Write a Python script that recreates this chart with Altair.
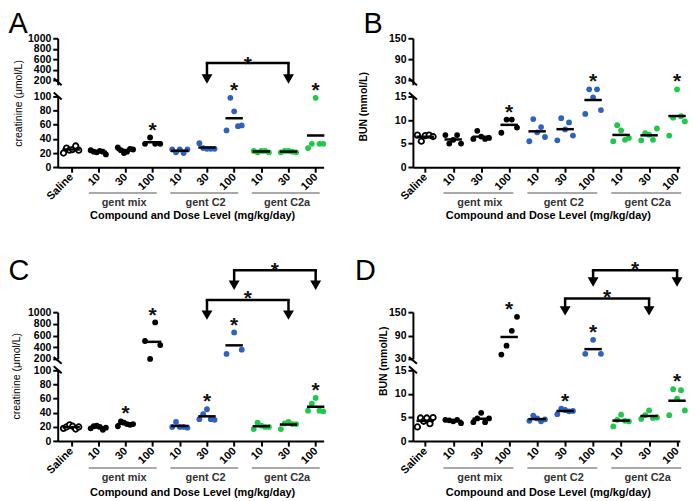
import json
import altair as alt
import pandas as pd

# ---------------- data ----------------
CATEGORIES = ["Saline", "10", "30", "100", "10", "30", "100", "10", "30", "100"]
COMPOUND = ["saline", "mix", "mix", "mix", "C2", "C2", "C2", "C2a", "C2a", "C2a"]
GROUP_NAMES = ["gent mix", "gent C2", "gent C2a"]
GROUP_FIRST = [1, 4, 7]
GROUP_LAST = [3, 6, 9]
X_TITLE = "Compound and Dose Level (mg/kg/day)"
LETTERS = ["A", "B", "C", "D"]
Y_TITLES = ["creatinine (\u03bcmol/L)", "BUN (mmol/L)", "creatinine (\u03bcmol/L)", "BUN (mmol/L)"]

CREAT_LOW_TICKS = [0, 20, 40, 60, 80, 100]
CREAT_UP_TICKS = [200, 400, 600, 800, 1000]
BUN_LOW_TICKS = [0, 5, 10, 15]
BUN_UP_TICKS = [30, 90, 150]

A_VALUES = [
    [20, 27, 24, 25, 30, 24],
    [24, 22, 21, 23, 22, 18],
    [28, 24, 20, 22, 26, 25],
    [33, 42, 33, 33],
    [25, 21, 25, 20, 25],
    [34, 27, 26, 26, 26],
    [52, 98, 79, 58, 59],
    [23, 21, 23, 23, 21],
    [21, 23, 23, 22, 21],
    [27, 33, 98, 33, 33],
]
A_STARS = [3, 6, 9]
A_BR_FROM = [5]
A_BR_TO = [8]

B_VALUES = [
    [6.8, 5.5, 6.7, 6.8, 6.5],
    [6.8, 5.0, 5.8, 6.8, 5.0],
    [6.0, 7.7, 6.5, 6.0, 6.2],
    [7.3, 10.1, 10.1, 8.4],
    [5.5, 10.2, 7.4, 8.5, 6.4],
    [5.7, 10.4, 8.0, 9.5, 6.7],
    [11.3, 16.5, 14.8, 16.5, 12.1],
    [5.5, 8.9, 7.8, 5.8, 6.2],
    [5.7, 7.2, 6.9, 5.8, 8.2],
    [6.7, 10.5, 16.5, 10.8, 9.7],
]
B_STARS = [3, 6, 9]
B_BR_FROM = []
B_BR_TO = []

C_VALUES = [
    [18, 20, 23, 21, 17, 20],
    [18, 21, 22, 20, 16, 19],
    [21, 28, 26, 24, 23, 24],
    [506, 200, 824, 437],
    [20, 27, 20, 20, 19],
    [31, 38, 45, 31, 30],
    [284, 653, 358],
    [17, 26, 22, 20, 20],
    [17, 25, 27, 24, 24],
    [43, 53, 61, 43, 42],
]
C_STARS = [2, 3, 5, 6, 9]
C_BR_FROM = [5, 6]
C_BR_TO = [8, 9]

D_VALUES = [
    [3.0, 4.9, 4.2, 4.9, 3.7, 5.0],
    [4.5, 4.4, 4.2, 4.5, 3.8],
    [4.0, 4.8, 6.0, 4.0, 4.8],
    [41, 64, 102, 138],
    [4.3, 5.4, 4.8, 4.2, 4.6],
    [5.7, 6.9, 6.6, 6.3, 6.4],
    [43, 79, 43],
    [3.1, 4.5, 5.6, 4.3, 4.2],
    [4.7, 5.5, 6.5, 4.9, 5.0],
    [5.5, 11.0, 9.0, 10.8, 6.5],
]
D_STARS = [3, 5, 6, 9]
D_BR_FROM = [5, 6]
D_BR_TO = [8, 9]

# ---------------- style / layout ----------------
FONT = "Liberation Sans"
BLUE = "#2f62c0"
GREEN = "#1fc74a"
COLOR_DOMAIN = ["saline", "mix", "C2", "C2a"]
COLOR_RANGE = ["#000000", "#000000", BLUE, GREEN]
LABEL_EXPR = json.dumps(CATEGORIES) + "[datum.value]"

ROW_GAP = 11.5
COL_GAP = 89.3
SPACER_H = 121.8
COLS = [dict(width=267.5, xdom=[-0.494, 9.294]), dict(width=268.5, xdom=[-0.44, 9.1])]
ROWS = [dict(up_span=42.3, up_h=46.8, low_h=71.2, line=26, glabel=36, xtitle=49.5),
        dict(up_span=47.0, up_h=47.0, low_h=71.2, line=27, glabel=37, xtitle=52)]
LAYOUT = {
    "A": dict(letter=(-49.5, -28.2), ytitle=(-39.2, 7), brackets=[(24.8, 45.8, 20.5)]),
    "B": dict(letter=(-49.6, -28.2), ytitle=(-49.0, 10.5), brackets=[]),
    "C": dict(letter=(-49.5, -55.7), ytitle=(-40.5, 6),
              brackets=[(-12.2, 7.8, -19.0), (-42.2, -22.2, -47.2)]),
    "D": dict(letter=(-58.3, -55.7), ytitle=(-28.8, -9),
              brackets=[(-13.8, 3.5, -19.8), (-42.2, -25.5, -48.2)]),
}
STAR_SIZE = 21
STAR_CENTER = 0.575 * STAR_SIZE
ONE = pd.DataFrame({"k": [0]})


def panel_frame(values, stars):
    rows = []
    for idx, vals in enumerate(values):
        n = len(vals)
        for r, v in enumerate(vals):
            off = 0.0 if n == 1 else (r - (n - 1) / 2) * 0.56 / (n - 1)
            rows.append({"idx": idx, "x": idx + off, "value": v,
                         "comp": COMPOUND[idx], "sig": idx in stars})
    return pd.DataFrame(rows)


def segment(df, ydom, ticks, xdom, split, upper):
    xs = alt.Scale(domain=xdom, nice=False, zero=False)
    ys = alt.Scale(domain=ydom, nice=False, zero=False)
    if upper:
        xaxis = None
    else:
        xaxis = alt.Axis(values=list(range(len(CATEGORIES))), labelExpr=LABEL_EXPR,
                         labelAngle=-45, labelAlign="right", labelBaseline="middle",
                         labelFontSize=11, labelPadding=3, title=None)
    yaxis = alt.Axis(values=ticks, title=None, labelFontSize=10.5, labelPadding=2, format="d")

    def X(f):
        return alt.X(f, type="quantitative", scale=xs, axis=xaxis)

    def Y(f):
        return alt.Y(f, type="quantitative", scale=ys, axis=yaxis)

    op = ">=" if upper else "<"
    base = alt.Chart(df)
    filled = base.transform_filter(
        f"datum.value {op} {split} && datum.comp != 'saline'"
    ).mark_circle(size=34, opacity=1).encode(
        x=X("x"), y=Y("value"),
        color=alt.Color("comp:N", scale=alt.Scale(domain=COLOR_DOMAIN, range=COLOR_RANGE), legend=None),
    )
    opened = base.transform_filter(
        f"datum.value {op} {split} && datum.comp == 'saline'"
    ).mark_point(shape="circle", size=30, filled=True, fill="white", stroke="black",
                 strokeWidth=1.8, opacity=1).encode(x=X("x"), y=Y("value"))
    means = base.transform_aggregate(
        m="mean(value)", groupby=["idx"]
    ).transform_filter(f"datum.m {op} {split}").mark_tick(
        orient="horizontal", size=17.5, thickness=2.5, color="black", opacity=1
    ).encode(x=X("idx"), y=Y("m"))
    stars = base.transform_filter("datum.sig").transform_aggregate(
        mx="max(value)", groupby=["idx"]
    ).transform_filter(f"datum.mx {op} {split}").mark_text(
        text="*", fontSize=STAR_SIZE, fontWeight="bold", font=FONT, color="#111",
        baseline="alphabetic", dy=-(13 - STAR_CENTER)
    ).encode(x=X("idx"), y=Y("mx"))
    return [filled, opened, means, stars], X


def build_panel(key, values, stars, br_from, br_to, low_ticks, up_ticks, col, row):
    c = COLS[col]
    r = ROWS[row]
    lay = LAYOUT[key]
    df = panel_frame(values, stars)
    split = up_ticks[0]
    w = c["width"]

    # ---- upper segment ----
    top, bot = up_ticks[-1], up_ticks[0]
    ymin = top - (top - bot) * r["up_h"] / r["up_span"]
    up_layers, XU = segment(df, [ymin, top], up_ticks, c["xdom"], split, True)
    sp = r["up_span"]
    up_layers.append(alt.Chart(ONE).mark_rule(color="black", strokeWidth=2).encode(
        x=alt.value(-4), x2=alt.value(4), y=alt.value(sp - 2), y2=alt.value(sp + 5)))
    up_layers.append(alt.Chart(ONE).mark_text(
        text=key, fontSize=29, font=FONT, align="left", baseline="top", color="black"
    ).encode(x=alt.value(lay["letter"][0]), y=alt.value(lay["letter"][1])))
    for i, (f, t) in enumerate(zip(br_from, br_to)):
        level, tip, star = lay["brackets"][i]
        bdf = pd.DataFrame({"f": [f], "t": [t]})
        ends = pd.DataFrame({"e": [f, t]})
        up_layers.append(alt.Chart(bdf).mark_rule(color="black", strokeWidth=2.5, strokeCap="square").encode(
            x=XU("f"), x2=alt.X2("t"), y=alt.value(level)))
        up_layers.append(alt.Chart(ends).mark_rule(color="black", strokeWidth=2.5).encode(
            x=XU("e"), y=alt.value(level), y2=alt.value(tip - 7)))
        up_layers.append(alt.Chart(ends).mark_point(
            shape="triangle-down", filled=True, size=120, color="black", opacity=1
        ).encode(x=XU("e"), y=alt.value(tip - 4.8)))
        up_layers.append(alt.Chart(bdf).transform_calculate(m="(datum.f + datum.t) / 2").mark_text(
            text="*", fontSize=STAR_SIZE, fontWeight="bold", font=FONT, color="#111", baseline="alphabetic"
        ).encode(x=XU("m"), y=alt.value(star + STAR_CENTER)))
    upper = alt.layer(*up_layers).properties(width=w, height=r["up_h"])

    # ---- lower segment ----
    low_layers, XL = segment(df, [low_ticks[0], low_ticks[-1]], low_ticks, c["xdom"], split, False)
    h = r["low_h"]
    low_layers.append(alt.Chart(ONE).mark_rule(color="black", strokeWidth=2).encode(
        x=alt.value(-4), x2=alt.value(4), y=alt.value(-4), y2=alt.value(3)))
    gdf = pd.DataFrame({"name": GROUP_NAMES, "first": GROUP_FIRST, "last": GROUP_LAST})
    low_layers.append(alt.Chart(gdf).transform_calculate(
        x1="datum.first - 0.35", x2="datum.last + 0.15"
    ).mark_rule(color="#555", strokeWidth=1.1).encode(
        x=XL("x1"), x2=alt.X2("x2"), y=alt.value(h + r["line"])))
    low_layers.append(alt.Chart(gdf).transform_calculate(
        xm="(datum.first + datum.last) / 2 - 0.05"
    ).mark_text(fontSize=11, fontWeight="bold", font=FONT, color="#333", baseline="middle").encode(
        x=XL("xm"), y=alt.value(h + r["glabel"]), text="name:N"))
    low_layers.append(alt.Chart(ONE).mark_text(
        text=X_TITLE, fontSize=11, fontWeight="bold", font=FONT, color="black", baseline="middle"
    ).encode(x=alt.value(w / 2 + 2), y=alt.value(h + r["xtitle"])))
    ytitle = Y_TITLES[LETTERS.index(key)]
    bold = "bold" if ytitle.startswith("BUN") else "normal"
    low_layers.append(alt.Chart(ONE).mark_text(
        text=ytitle, fontSize=10.5, fontWeight=bold, font=FONT, color="black",
        angle=270, baseline="middle", align="center"
    ).encode(x=alt.value(lay["ytitle"][0]), y=alt.value(lay["ytitle"][1])))
    lower = alt.layer(*low_layers).properties(width=w, height=h)
    return upper, lower


A_up, A_low = build_panel("A", A_VALUES, A_STARS, A_BR_FROM, A_BR_TO, CREAT_LOW_TICKS, CREAT_UP_TICKS, 0, 0)
B_up, B_low = build_panel("B", B_VALUES, B_STARS, B_BR_FROM, B_BR_TO, BUN_LOW_TICKS, BUN_UP_TICKS, 1, 0)
C_up, C_low = build_panel("C", C_VALUES, C_STARS, C_BR_FROM, C_BR_TO, CREAT_LOW_TICKS, CREAT_UP_TICKS, 0, 1)
D_up, D_low = build_panel("D", D_VALUES, D_STARS, D_BR_FROM, D_BR_TO, BUN_LOW_TICKS, BUN_UP_TICKS, 1, 1)


def spacer(width):
    return alt.Chart(ONE).mark_point(opacity=0).encode(
        x=alt.value(0), y=alt.value(0)
    ).properties(width=width, height=SPACER_H)


chart = alt.concat(
    A_up, B_up, A_low, B_low, spacer(COLS[0]["width"]), spacer(COLS[1]["width"]),
    C_up, D_up, C_low, D_low,
    columns=2, spacing={"row": ROW_GAP, "column": COL_GAP}, bounds="flush",
).properties(padding=0).configure_view(stroke=None).configure_axis(
    domainColor="black", domainWidth=2, tickColor="black", tickWidth=2, tickSize=5,
    labelColor="black", labelFont=FONT, labelFontWeight="bold", grid=False,
)

chart.save("out.html", embed_options={"renderer": "svg", "actions": False})
